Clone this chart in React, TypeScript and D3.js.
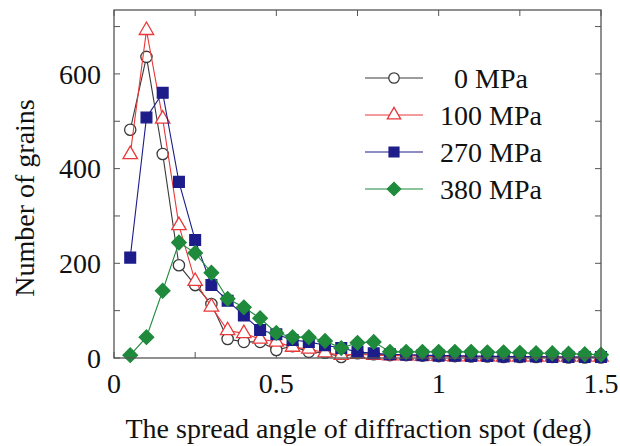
import React from "react";
import { scaleLinear, line, symbol, symbolCircle, symbolTriangle, symbolSquare } from "d3";

const width = 620;
const height = 446;

const angles = [
  0.05, 0.1, 0.15, 0.2, 0.25, 0.3, 0.35, 0.4, 0.45, 0.5, 0.55, 0.6, 0.65, 0.7, 0.75,
  0.8, 0.85, 0.9, 0.95, 1.0, 1.05, 1.1, 1.15, 1.2, 1.25, 1.3, 1.35, 1.4, 1.45, 1.5,
];
const mpa0 = [482, 636, 431, 196, 154, 114, 40, 34, 34, 17, 25, 13, 11, 2, 10, 8, 6, 6, 5, 4, 4, 3, 3, 2, 2, 2, 2, 1, 1, 1];
const mpa100 = [430, 692, 505, 280, 162, 108, 58, 52, 40, 34, 23, 19, 11, 6, 8, 6, 5, 5, 4, 4, 3, 3, 3, 2, 2, 2, 2, 2, 2, 2];
const mpa270 = [212, 508, 560, 372, 249, 154, 121, 90, 59, 50, 38, 34, 27, 21, 13, 10, 8, 7, 6, 5, 5, 4, 4, 3, 3, 3, 2, 2, 2, 2];
const mpa380 = [6, 44, 142, 244, 222, 180, 125, 107, 84, 53, 44, 44, 36, 21, 32, 34, 13, 13, 13, 13, 13, 13, 12, 12, 11, 10, 10, 9, 8, 7];

const xTicks = [0, 0.5, 1, 1.5];
const xMinor = [0.25, 0.75, 1.25];
const yTicks = [0, 200, 400, 600];
const yMinor = [100, 300, 500, 700];

// diamond = square turned 45deg
const series = [
  { name: "0 MPa", values: mpa0, color: "#3a3a3a", shape: symbolCircle, size: 100, fill: "#fff", rot: 0 },
  { name: "100 MPa", values: mpa100, color: "#e8393a", shape: symbolTriangle, size: 90, fill: "#fff", rot: 0 },
  { name: "270 MPa", values: mpa270, color: "#1c1c8a", shape: symbolSquare, size: 115, fill: "#1c1c8a", rot: 0 },
  { name: "380 MPa", values: mpa380, color: "#1f8a3c", shape: symbolSquare, size: 105, fill: "#1f8a3c", rot: 45 },
];

const margin = { top: 10, right: 19, bottom: 88, left: 114 };
const innerWidth = width - margin.left - margin.right;
const innerHeight = height - margin.top - margin.bottom;

export default function App() {
  const x = scaleLinear().domain([0, 1.5]).range([0, innerWidth]);
  const y = scaleLinear().domain([0, 735]).range([innerHeight, 0]);
  const font = "'Liberation Serif', 'Times New Roman', serif";
  const fs = 28;

  return (
    <svg width={width} height={height} style={{ position: "absolute", left: 0, top: 0 }}>
      <g transform={`translate(${margin.left},${margin.top})`} fontFamily={font}>
        {/* ticks inside on all four sides */}
        {[...xTicks, ...xMinor].map((t) => (
          <g key={"xt" + t}>
            <line x1={x(t)} x2={x(t)} y1={innerHeight} y2={innerHeight - 6} stroke="#555" />
            <line x1={x(t)} x2={x(t)} y1={0} y2={6} stroke="#555" />
          </g>
        ))}
        {[...yTicks, ...yMinor].map((t) => (
          <g key={"yt" + t}>
            <line x1={0} x2={6} y1={y(t)} y2={y(t)} stroke="#555" />
            <line x1={innerWidth} x2={innerWidth - 6} y1={y(t)} y2={y(t)} stroke="#555" />
          </g>
        ))}
        {xTicks.map((t) => (
          <text key={"xl" + t} x={x(t)} y={innerHeight + 35} textAnchor="middle" fontSize={fs} fill="#111">
            {t}
          </text>
        ))}
        {yTicks.map((t) => (
          <text key={"yl" + t} x={-13} y={y(t)} dy="0.35em" textAnchor="end" fontSize={fs} fill="#111">
            {t}
          </text>
        ))}
        <text x={innerWidth / 2 + 1} y={innerHeight + 80} textAnchor="middle" fontSize={fs} fill="#111">
          The spread angle of diffraction spot (deg)
        </text>
        <text
          transform={`translate(${-80},${innerHeight / 2 + 14}) rotate(-90)`}
          textAnchor="middle"
          fontSize={fs}
          fill="#111"
        >
          Number of grains
        </text>

        {series.map((s) => {
          const pts = s.values.map((v, i) => [x(angles[i]), y(v)] as [number, number]);
          const path = line()(pts) || "";
          const sym = symbol().type(s.shape).size(s.size)() || "";
          return (
            <g key={s.name}>
              <path d={path} fill="none" stroke={s.color} strokeWidth={1.1} />
              {pts.map((p, i) => (
                <path
                  key={i}
                  d={sym}
                  transform={`translate(${p[0]},${p[1]}) rotate(${s.rot})`}
                  fill={s.fill}
                  stroke={s.color}
                  strokeWidth={1.3}
                />
              ))}
            </g>
          );
        })}

        <rect x={0} y={0} width={innerWidth} height={innerHeight} fill="none" stroke="#555" strokeWidth={1.3} />

        {/* legend */}
        {series.map((s, i) => {
          const ly = 68 + i * 37;
          const sym = symbol().type(s.shape).size(s.size * 0.85)() || "";
          return (
            <g key={"lg" + s.name} transform={`translate(${251},${ly})`}>
              <line x1={0} x2={58} y1={0} y2={0} stroke={s.color} strokeWidth={1.1} />
              <path
                d={sym}
                transform={`translate(29,0) rotate(${s.rot})`}
                fill={s.fill}
                stroke={s.color}
                strokeWidth={1.3}
              />
              <text x={126} y={0} dy="0.35em" textAnchor="middle" fontSize={fs} fill="#111">
                {s.name}
              </text>
            </g>
          );
        })}
      </g>
    </svg>
  );
}
